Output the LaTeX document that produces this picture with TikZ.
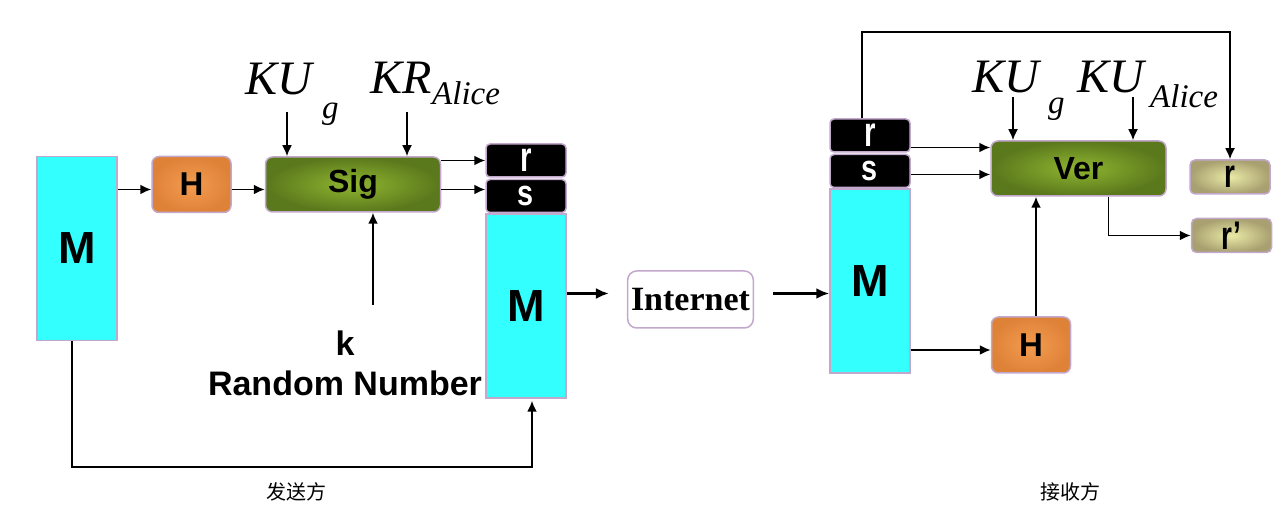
\documentclass[tikz,border=0pt]{standalone}
\usepackage{fontspec}
\usepackage{xcolor}
\usetikzlibrary{positioning, calc, arrows.meta}

\newfontfamily\arialfont{Liberation Sans}
\newfontfamily\timesfont{Liberation Serif}
\newfontfamily\cjkfont{Noto Sans CJK SC}
\newcommand{\fsize}[1]{\fontsize{#1}{#1}\selectfont}

\definecolor{edgepurple}{HTML}{C2A8CC}
\definecolor{aqua}{HTML}{33FFFF}
\definecolor{orangein}{HTML}{F49C50}
\definecolor{orangeout}{HTML}{DE8238}
\definecolor{greenin}{HTML}{8FB530}
\definecolor{greenout}{HTML}{5A781C}
\definecolor{olivein}{HTML}{EAEAA6}
\definecolor{oliveout}{HTML}{A8A070}

\begin{document}
\begin{tikzpicture}[x=1pt, y=1pt]
\tikzstyle{msgblock}=[draw=edgepurple, line width=1.5pt, fill=aqua, minimum width=80pt, minimum height=184pt,
inner sep=0pt, font=\arialfont\bfseries\fsize{45}]
\tikzstyle{sigblock}=[draw=edgepurple, line width=1.5pt, fill=black, rounded corners=4pt, minimum width=80pt,
minimum height=33pt, inner sep=0pt, text=white, font=\arialfont\bfseries, node distance=1pt]
\tikzstyle{hashblock}=[draw=edgepurple, line width=1.5pt, rounded corners=7pt, inner color=orangein, outer color=orangeout,
minimum width=79pt, minimum height=56pt, font=\arialfont\bfseries\fsize{33}]
\tikzstyle{algblock}=[draw=edgepurple, line width=1.5pt, rounded corners=7pt, inner color=greenin, outer color=greenout,
minimum width=175pt, minimum height=55pt, font=\arialfont\bfseries\fsize{32}]
\tikzstyle{outblock}=[draw=edgepurple, line width=1.5pt, rounded corners=5pt, inner color=olivein, outer color=oliveout,
minimum width=80pt, minimum height=34pt, inner sep=0pt, font=\arialfont\bfseries\fsize{40}]
\tikzstyle{netblock}=[draw=edgepurple, line width=1.5pt, rounded corners=9pt, fill=white, minimum width=125pt,
minimum height=57pt, font=\timesfont\bfseries\fsize{34}]
\tikzstyle{keylabel}=[font=\timesfont\itshape\fsize{48}, inner sep=0pt, anchor=base west]
\tikzstyle{sublabel}=[font=\timesfont\itshape\fsize{33}, inner sep=0pt, anchor=base west]
\tikzstyle{sidelabel}=[font=\cjkfont\fsize{20}]
\tikzstyle{flow}=[-{Latex[length=11pt, width=10pt]}, line width=1.8pt]
\tikzstyle{netflow}=[-{Latex[length=13pt, width=11pt]}, line width=3.5pt]

\useasboundingbox (0,0) rectangle (1286,514);

% sender
\node (Mleft) [msgblock] at (77,265.5) {M};
\node (Hleft) [hashblock] at (191.5,329.5) {H};
\node (Sig) [algblock, right=33pt of Hleft] {Sig};

\node (kug) [keylabel] at (245,419) {KU};
\node (kugsub) [sublabel] at (322,395) {g};
\node (kra) [keylabel] at (370,420) {KR};
\node (krasub) [sublabel] at (432,409) {Alice};
\coordinate (kugin) at (287,402);
\coordinate (krain) at (407,402);

\node (rnd) [font=\arialfont\bfseries\fontsize{34}{40}\selectfont, align=center] at (345,151) {k\\Random Number};
\coordinate (kin) at (373,209);

% signed message
\node (M2) [msgblock] at (526,208) {M};
\node (sS) [sigblock, above=0pt of M2] {\fsize{36}\scalebox{0.8}[1]{s}};
\node (rS) [sigblock, above=of sS] {\fsize{42}\scalebox{0.7}[1]{r}};

% internet
\node (net) [netblock] at (690.5,214.5) {Internet};

% receiver
\node (M3) [msgblock] at (870,233) {M};
\node (sR) [sigblock, above=0pt of M3] {\fsize{36}\scalebox{0.8}[1]{s}};
\node (rR) [sigblock, above=of sR] {\fsize{42}\scalebox{0.7}[1]{r}};

\node (Ver) [algblock] at (1078.5,345.5) {Ver};
\node (H2) [hashblock] at (1031,169) {H};

\node (kug2) [keylabel] at (972,421) {KU};
\node (kug2sub) [sublabel] at (1048,400) {g};
\node (kua2) [keylabel] at (1077,421) {KU};
\node (kua2sub) [sublabel] at (1150,406) {Alice};
\coordinate (kug2in) at (1013,417);
\coordinate (kua2in) at (1133,417);

% outputs
\node (rout) [outblock] at (1230,337) {\scalebox{0.7}[1]{r}};
\node (rprime) [outblock] at (1231.5,278.5) {\scalebox{0.7}[1]{r’}};

\node (sendlbl) [sidelabel] at (296,22) {发送方};
\node (recvlbl) [sidelabel] at (1070,22) {接收方};

% arrow ends
\coordinate (hin) at ([yshift=-5pt]Hleft.west);
\coordinate (sigin) at ([yshift=-5pt]Sig.west);
\coordinate (sigout) at ([yshift=-5pt]Sig.east);
\coordinate (netin) at ([yshift=6pt]net.west);
\coordinate (netout) at ([yshift=6pt]net.east);
\coordinate (verr) at ([yshift=21pt]Ver.west);
\coordinate (vers) at ([yshift=-6pt]Ver.west);
\coordinate (h2in) at ([yshift=-5pt]H2.west);
\coordinate (h2out) at ([xshift=5pt]H2.north);

% connections sender
\draw[flow] (hin -| Mleft.east) -- (hin);
\draw[flow] ([yshift=-5pt]Hleft.east) -- (sigin);
\draw[flow] (kugin) -- (kugin |- Sig.north);
\draw[flow] (krain) -- (krain |- Sig.north);
\draw[flow] (kin) -- (kin |- Sig.south);
\draw[flow] (rS.west -| Sig.east) -- (rS.west);
\draw[flow] (sigout) -- (sigout -| sS.west);
\draw[flow] ([xshift=-5pt]Mleft.south) -- ++(0,-126) -| ([xshift=6pt, yshift=-2pt]M2.south);

% internet
\draw[netflow, shorten >=18pt] (netin -| M2.east) -- (netin);
\draw[netflow, shorten <=19pt] (netout) -- (netout -| M3.west);

% connections receiver
\draw[flow] (verr -| rR.east) -- (verr);
\draw[flow] (vers -| sR.east) -- (vers);
\draw[flow] (kug2in) -- (kug2in |- Ver.north);
\draw[flow] (kua2in) -- (kua2in |- Ver.north);
\draw[flow] (h2in -| M3.east) -- (h2in);
\draw[flow] (h2out) -- (h2out |- Ver.south);
\draw[flow] ([xshift=-8pt]rR.north) -- ++(0,86) -| (rout.north);
\draw[flow] ([xshift=30pt]Ver.south) |- (rprime.west);

\end{tikzpicture}
\end{document}
